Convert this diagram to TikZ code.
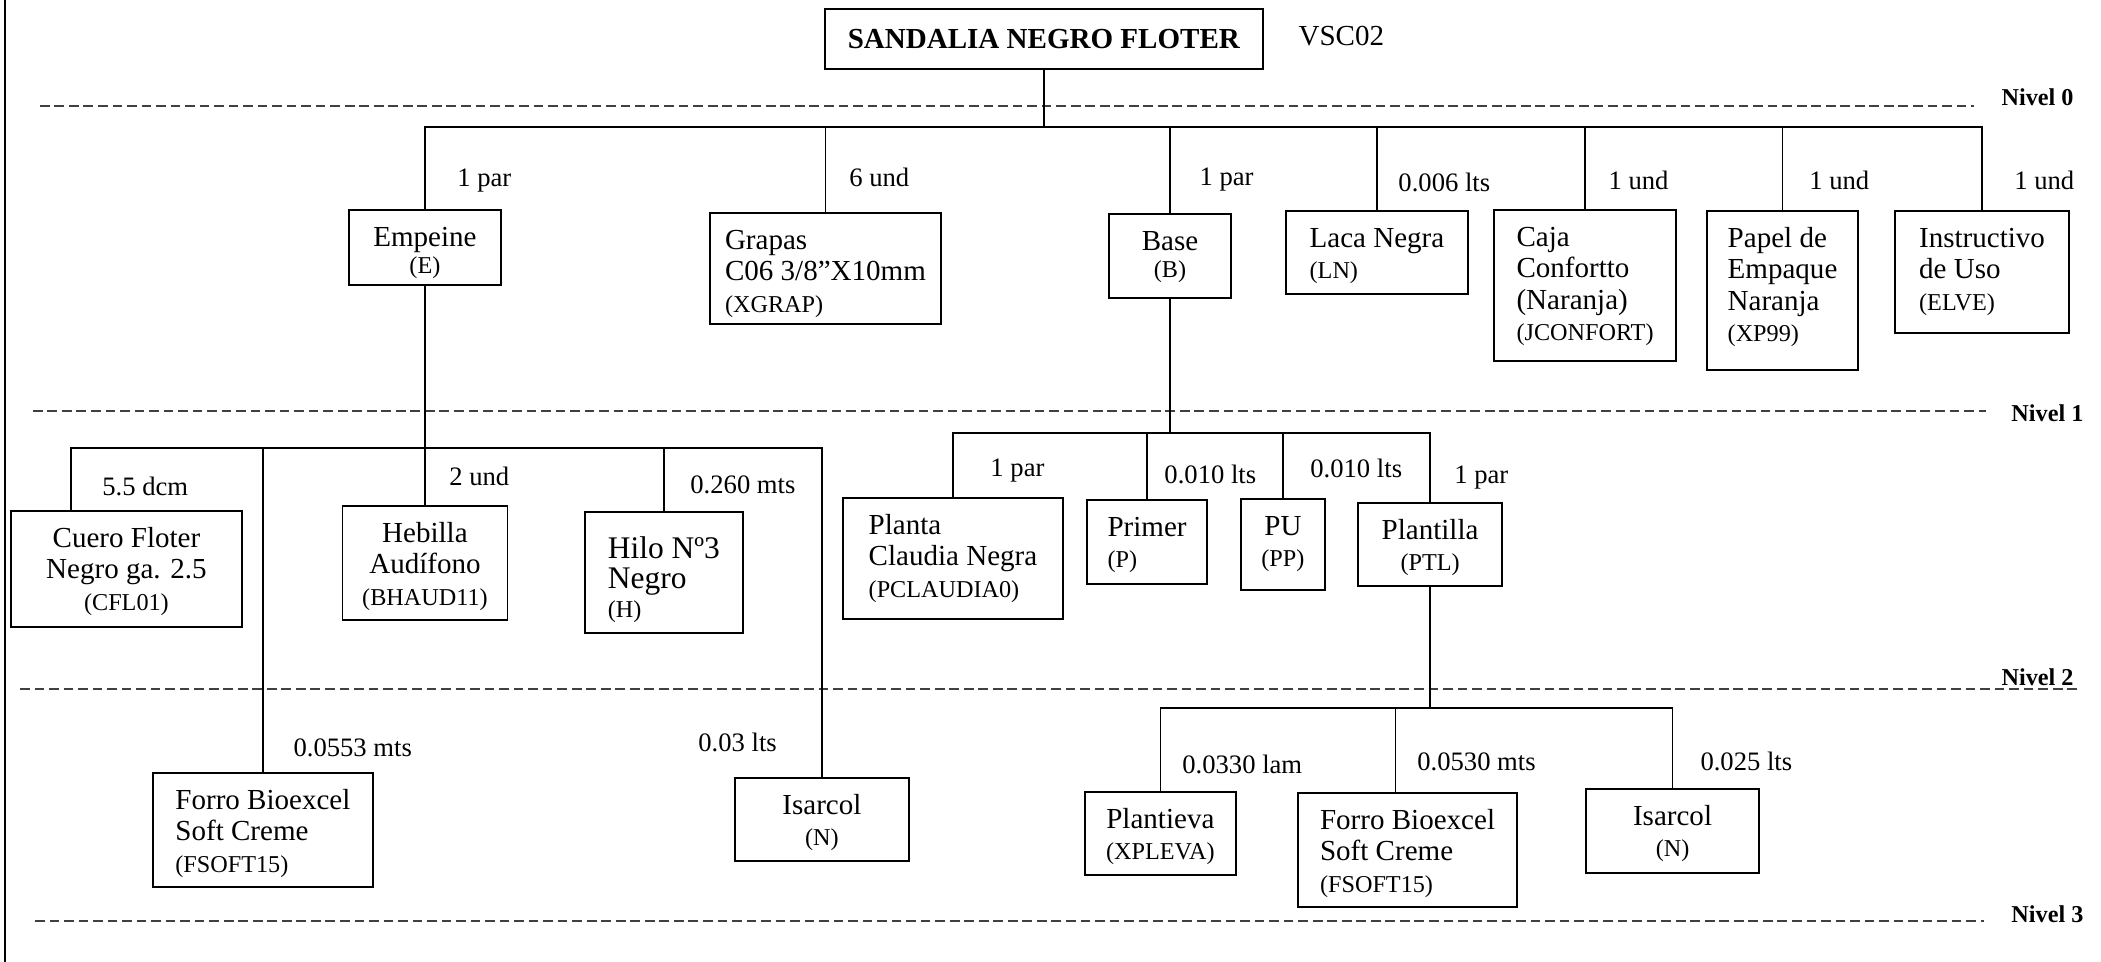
\documentclass[tikz,border=0pt]{standalone}
\usepackage{fontspec}
\setmainfont{Liberation Serif}
\newcommand{\cod}[1]{{\fontsize{10}{13}\selectfont(#1)}}

\begin{document}
\begin{tikzpicture}[x=1pt, y=-1pt,
  box/.style={draw, line width=0.75pt, inner sep=2pt, anchor=north,
    font=\fontsize{12}{13}\selectfont},
  lbox/.style={box, align=left},
  cbox/.style={box, align=center},
  two/.style={text height=26.1pt},
  three/.style={text height=39.1pt},
  qty/.style={anchor=base west, inner sep=0pt, yshift=-3.6pt, font=\fontsize{11}{13}\selectfont},
  lvl/.style={anchor=base west, inner sep=0pt, font=\bfseries\fontsize{10}{12}\selectfont},
  levelline/.style={line width=0.5pt, black!75, dash pattern=on 4pt off 2pt},
  link/.style={line width=0.55pt}]

\useasboundingbox (0,0) rectangle (868.2,397.5);

% Frame and levels
\draw[line width=0.6pt] (2.1,0) -- (2.1,397.5);

\draw[levelline] (16.5,43.8) -- (815.7,43.8);
\draw[levelline] (13.6,169.8) -- (820.7,169.8);
\draw[levelline] (8.3,284.7) -- (858.7,284.7);
\draw[levelline] (14.5,380.6) -- (819.8,380.6);

\node[lvl] (nivel0) at (826.9,43.4) {Nivel 0};
\node[lvl] (nivel1) at (831.0,174.0) {Nivel 1};
\node[lvl] (nivel2) at (826.9,283.1) {Nivel 2};
\node[lvl] (nivel3) at (831.0,381.4) {Nivel 3};

% Nodes

\node[draw, line width=0.75pt, minimum width=181pt, minimum height=24.8pt, font=\fontsize{12}{13}\selectfont] (top) at (431.4,16.1) {\textbf{SANDALIA NEGRO FLOTER}};
\node[anchor=base west, inner sep=0pt, yshift=-4pt, font=\fontsize{12}{13}\selectfont] (vsc) at (536.4,14.9) {VSC02};

\node[cbox, minimum width=62.8pt, text height=24.4pt, text depth=2.6pt, font=\fontsize{12}{11.3}\selectfont] (E) at (175.6,86.4) {Empeine\\\cod{E}};
\node[lbox, three, minimum width=95.4pt, text depth=2.8pt] (XGRAP) at (341.1,87.6) {Grapas\\C06 3/8”X10mm\\\cod{XGRAP}};
\node[cbox, minimum width=50.4pt, text height=24.4pt, text depth=6.3pt, font=\fontsize{12}{11.3}\selectfont] (B) at (483.5,88.0) {Base\\\cod{B}};
\node[lbox, two, minimum width=75.2pt, text depth=4.2pt] (LN) at (569.0,86.8) {Laca Negra\\\cod{LN}};
\node[lbox, minimum width=75.2pt, text height=52.1pt, text depth=6.3pt] (JCONFORT) at (655.0,86.4) {Caja\\Confortto\\(Naranja)\\\cod{JCONFORT}};
\node[lbox, minimum width=62.4pt, text height=52.1pt, text depth=9.6pt] (XP99) at (736.6,86.8) {Papel de\\Empaque\\Naranja\\\cod{XP99}};
\node[lbox, three, minimum width=71.9pt, text depth=7.3pt] (ELVE) at (819.05,86.8) {Instructivo\\de Uso\\\cod{ELVE}};

\node[cbox, three, minimum width=95.5pt, text depth=4.9pt] (CFL01) at (52.25,210.7) {Cuero Floter\\Negro ga. 2.5\\\cod{CFL01}};
\node[lbox, three, minimum width=90.9pt, text depth=4pt] (FSOFT15) at (108.65,319.0) {Forro Bioexcel\\Soft Creme\\\cod{FSOFT15}};
\node[cbox, three, minimum width=68.2pt, text depth=4pt] (BHAUD11) at (175.6,208.7) {Hebilla\\Audífono\\\cod{BHAUD11}};
\node[lbox, minimum width=65.3pt, text height=41.8pt, text depth=4.2pt, font=\fontsize{13}{12.2}\selectfont] (H) at (274.35,211.2) {Hilo Nº3\\Negro\\\cod{H}};
\node[cbox, two, minimum width=71.9pt, text depth=4.2pt] (N) at (339.65,321.1) {Isarcol\\\cod{N}};

\node[lbox, three, minimum width=91pt, text depth=6.9pt] (PCLAUDIA0) at (393.8,205.4) {Planta\\Claudia Negra\\\cod{PCLAUDIA0}};
\node[lbox, two, minimum width=49.6pt, text depth=4.6pt] (P) at (474.0,206.2) {Primer\\\cod{P}};
\node[cbox, two, minimum width=34.7pt, text depth=7.5pt] (PP) at (530.15,205.8) {PU\\\cod{PP}};
\node[cbox, two, minimum width=59.5pt, text depth=4.2pt] (PTL) at (590.95,207.4) {Plantilla\\\cod{PTL}};

\node[cbox, two, minimum width=62.4pt, text depth=4.2pt] (XPLEVA) at (479.5,326.9) {Plantieva\\\cod{XPLEVA}};
\node[lbox, three, minimum width=90.5pt, text depth=4pt] (FSOFT15b) at (581.65,327.3) {Forro Bioexcel\\Soft Creme\\\cod{FSOFT15}};
\node[cbox, two, minimum width=71.5pt, text depth=4.6pt] (N2) at (691.15,325.6) {Isarcol\\\cod{N}};

% Edges
\coordinate (tb) at (431.4,52.5);
\draw[link] (top.south) -- (tb);
\draw[link] (E.north) |- (tb) -| (ELVE.north);
\foreach \n in {XGRAP,B,LN,JCONFORT,XP99}
  \draw[link] (\n.north) -- (\n.north |- tb);

\coordinate (eb) at (175.6,185.1);
\draw[link] (E.south) -- (BHAUD11.north);
\draw[link] ([xshift=25.2pt]CFL01.north west) |- (eb) -| (N.north);
\foreach \n in {FSOFT15,H}
  \draw[link] (\n.north) -- (\n.north |- eb);

\coordinate (bb) at (483.5,178.9);
\draw[link] (B.south) -- (bb);
\draw[link] (PCLAUDIA0.north) |- (bb) -| (PTL.north);
\foreach \n in {P,PP}
  \draw[link] (\n.north) -- (\n.north |- bb);

\coordinate (pb) at (590.95,292.6);
\draw[link] (PTL.south) -- (pb);
\draw[link] (XPLEVA.north) |- (pb) -| (N2.north);
\draw[link] ([xshift=40.5pt]FSOFT15b.north west) -- ([xshift=40.5pt]FSOFT15b.north west |- pb);

% Labels
\node[qty] (qE) at (188.8,73.6) {1 par};
\node[qty] (qXGRAP) at (350.8,73.6) {6 und};
\node[qty] (qB) at (495.5,73.1) {1 par};
\node[qty] (qLN) at (577.7,75.6) {0.006 lts};
\node[qty] (qJCONFORT) at (664.5,74.8) {1 und};
\node[qty] (qXP99) at (747.5,74.8) {1 und};
\node[qty] (qELVE) at (832.2,74.8) {1 und};

\node[qty] (qCFL01) at (42.1,201.2) {5.5 dcm};
\node[qty] (qFSOFT15) at (121.1,309.1) {0.0553 mts};
\node[qty] (qBHAUD11) at (185.5,197.1) {2 und};
\node[qty] (qH) at (285.1,200.4) {0.260 mts};
\node[qty] (qN) at (288.4,307.0) {0.03 lts};

\node[qty] (qPCLAUDIA0) at (409.1,193.4) {1 par};
\node[qty] (qP) at (481.0,196.3) {0.010 lts};
\node[qty] (qPP) at (541.3,193.8) {0.010 lts};
\node[qty] (qPTL) at (600.8,196.3) {1 par};

\node[qty] (qXPLEVA) at (488.4,316.1) {0.0330 lam};
\node[qty] (qFSOFT15b) at (585.5,314.9) {0.0530 mts};
\node[qty] (qN2) at (702.5,314.9) {0.025 lts};

\end{tikzpicture}
\end{document}
